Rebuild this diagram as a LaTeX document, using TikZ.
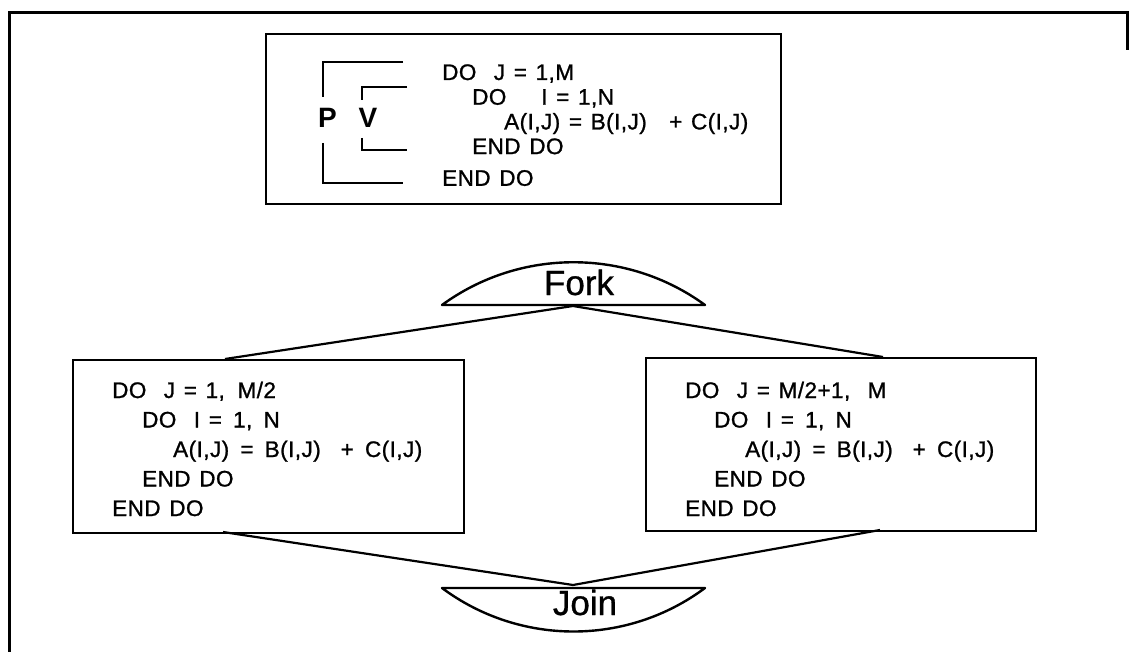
\documentclass[tikz,border=0pt]{standalone}
\usepackage{fontspec}
\setmainfont{Liberation Sans}
\newfontfamily\codefont[LetterSpace=2,WordSpace=1.3,FakeBold=1.1]{Liberation Sans}
\newfontfamily\tagfont[FakeBold=0.9]{Liberation Sans}
\newcommand\codelines[1]{\begin{tabular}[t]{@{}l@{}}#1\end{tabular}}
\newcommand\ind[1]{\hspace*{#1pt}}
\newcommand\gap{\hspace{2.5pt}}
\begin{document}
\begin{tikzpicture}[x=1pt,y=-1pt,
  box/.style={draw,line width=2pt,inner sep=0pt,anchor=north west},
  code/.style={anchor=base west,inner sep=0pt,font=\codefont\fontsize{22.5}{24.7}\selectfont},
  lowcode/.style={code,font=\codefont\fontsize{22.5}{29.5}\selectfont},
  link/.style={line width=2.2pt},
  capline/.style={line width=2.4pt,line join=round},
  bracket/.style={line width=1.8pt},
  tag/.style={anchor=base,inner sep=0pt,font=\tagfont\fontsize{35}{40}\selectfont},
  letter/.style={inner sep=0pt,font=\bfseries\fontsize{28}{32}\selectfont}]
\useasboundingbox (0,0) rectangle (1129,652);

% outer frame
\draw[line width=3pt] (9,652) -- (9,13) -- (1127,13) -- (1127,50);

% serial loop nest
\node[box,minimum width=515,minimum height=170] (serial) at (265,33) {};
\node[code] (serialcode) at (442,80) {\codelines{%
  DO\ \ J = 1,M\\
  \ind{30}DO\ \ \ \ I = 1,N\\
  \ind{62}A(I,J) = B(I,J)\ \ \hspace{5pt}+ C(I,J)\\
  \ind{30}END DO\\[7pt]
  END DO}};

% P and V brackets
\node[letter] (P) at (327.5,117.5) {P};
\node[letter] (V) at (368,117.5) {V};
\draw[bracket] (403,62) -| (323,97);
\draw[bracket] (323,143) |- (403,183);
\draw[bracket] (407,87) -| (362,100);
\draw[bracket] (362,138) |- (407,150);

% fork
\draw[capline] (442,305) .. controls (520,248) and (627,248) .. (705,305) -- cycle;
\node[tag] (fork) at (579,295) {Fork};
\coordinate (forkpt) at (573,306);

% parallel halves
\node[box,minimum width=391,minimum height=173] (left) at (72,359) {};
\node[box,minimum width=390,minimum height=173] (right) at (645,357) {};
\node[lowcode] (leftcode) at (112,398) {\codelines{%
  DO\ \ J = 1,\hspace{4pt} M/2\\
  \ind{30}DO\ \ I = \gap1,\gap\ N\\
  \ind{61}A(I,J)\gap\ =\gap\ B(I,J)\gap\ \ + \gap C(I,J)\\
  \ind{30}END DO\\
  END DO}};
\node[lowcode] (rightcode) at (685,398) {\codelines{%
  DO\ \ J = M/2+1,\ \ M\\
  \ind{29}DO\ \ I = \gap1,\gap\ N\\
  \ind{60}A(I,J)\gap\ =\gap\ B(I,J)\gap\ \ + \gap C(I,J)\\
  \ind{29}END DO\\
  END DO}};
\coordinate (leftin) at (225,359);
\coordinate (rightin) at (883,357);
\coordinate (leftout) at (223,532);
\coordinate (rightout) at (880,530);

% join
\draw[capline] (442,588) .. controls (520,646) and (627,646) .. (705,588) -- cycle;
\node[tag] (join) at (585,615) {Join};
\coordinate (joinpt) at (573,585);

% connectors
\draw[link] (leftin) -- (forkpt) -- (rightin);
\draw[link] (leftout) -- (joinpt) -- (rightout);
\end{tikzpicture}
\end{document}
